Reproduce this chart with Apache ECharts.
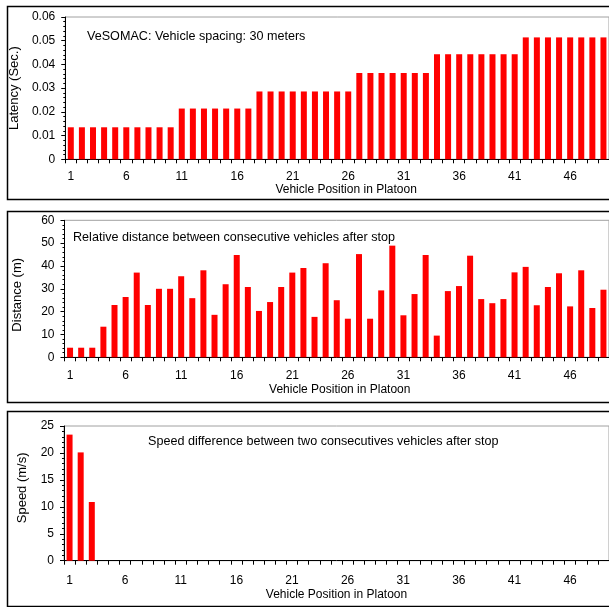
<!DOCTYPE html>
<html><head><meta charset="utf-8">
<script src="https://cdn.jsdelivr.net/npm/echarts@6/dist/echarts.min.js"></script>
<style>html,body{margin:0;padding:0;background:#fff}#c{width:609px;height:607px}</style>
</head><body><div id="c"></div><script>
const categories = ['1','2','3','4','5','6','7','8','9','10','11','12','13','14','15','16','17','18','19','20','21','22','23','24','25','26','27','28','29','30','31','32','33','34','35','36','37','38','39','40','41','42','43','44','45','46','47','48','49'];
const latency = [0.0135,0.0135,0.0135,0.0135,0.0135,0.0135,0.0135,0.0135,0.0135,0.0135,
  0.0214,0.0214,0.0214,0.0214,0.0214,0.0214,0.0214,
  0.0286,0.0286,0.0286,0.0286,0.0286,0.0286,0.0286,0.0286,0.0286,
  0.0364,0.0364,0.0364,0.0364,0.0364,0.0364,0.0364,
  0.0443,0.0443,0.0443,0.0443,0.0443,0.0443,0.0443,0.0443,
  0.0514,0.0514,0.0514,0.0514,0.0514,0.0514,0.0514,0.0514];
const distance = [4.2,4.2,4.2,13.4,22.9,26.4,37.1,22.9,30,30,
  35.5,25.9,38.1,18.6,32,44.8,30.8,20.3,24.2,30.8,
  37.1,39.1,17.7,41.2,25,16.9,45.2,16.9,29.3,48.9,
  18.4,27.7,44.8,9.5,29,31.2,44.5,25.5,23.7,25.5,
  37.2,39.6,22.8,30.8,36.8,22.3,38.1,21.6,29.6];
const speed = [23.4,20.1,10.9,0,0,0,0,0,0,0,
  0,0,0,0,0,0,0,0,0,0,
  0,0,0,0,0,0,0,0,0,0,
  0,0,0,0,0,0,0,0,0,0,
  0,0,0,0,0,0,0,0,0];
const titles = ['VeSOMAC: Vehicle spacing: 30 meters','Relative distance between consecutive vehicles after stop','Speed difference between two consecutives vehicles after stop'];
const yNames = ['Latency (Sec.)','Distance (m)','Speed (m/s)'];
const xName = 'Vehicle Position in Platoon';

const FONT = 'Liberation Sans';
const chart = echarts.init(document.getElementById('c'), null, {renderer:'canvas'});
const GW = 548;
const grids = [
  {left:65, top:17, width:GW, height:142.3},
  {left:64.5, top:220.3, width:GW, height:137},
  {left:64, top:426, width:GW, height:134.7}
].map(g => Object.assign(g, {show:true, borderColor:'#a0a0a0', borderWidth:1, backgroundColor:'transparent', containLabel:false}));

function xAx(gi, margin, gap, pad){
  return {type:'category', gridIndex:gi, data:categories, boundaryGap:true,
    axisLine:{lineStyle:{color:'#000', width:1}},
    axisTick:{show:true, interval:0, length:4, lineStyle:{color:'#000'}},
    axisLabel:{interval:4, margin:margin, color:'#000', fontSize:12, fontFamily:FONT},
    splitLine:{show:false},
    name:xName, nameLocation:'middle', nameGap:gap,
    nameTextStyle:{color:'#000', fontSize:12, fontFamily:FONT, padding:pad}};
}
function yAx(gi, max, interval, name, gap, pad){
  return {type:'value', gridIndex:gi, min:0, max:max, interval:interval,
    axisLine:{show:true, lineStyle:{color:'#000', width:1}},
    axisTick:{show:true, length:4, lineStyle:{color:'#000'}},
    minorTick:{show:true, splitNumber:5, length:2, lineStyle:{color:'#000'}},
    axisLabel:{margin:10, color:'#000', fontSize:12, fontFamily:FONT},
    splitLine:{show:false},
    name:name, nameLocation:'middle', nameGap:gap, nameRotate:90,
    nameTextStyle:{color:'#000', fontSize:13, fontFamily:FONT, padding:pad}};
}

const boxes = [[6,193],[211,191],[411,195]];
const titlePos = [[87,37],[73,238],[148,442]];
const graphic = [];
boxes.forEach(b => graphic.push({type:'rect', shape:{x:7.5, y:b[0]+0.5, width:640, height:b[1]}, style:{fill:'none', stroke:'#000', lineWidth:1.5}, silent:true}));
titles.forEach((t,i) => graphic.push({type:'text', x:titlePos[i][0], y:titlePos[i][1], style:{text:t, fill:'#000', font:'12.6px "'+FONT+'"', verticalAlign:'middle', textVerticalAlign:'middle'}, silent:true}));

const barStyle = {color:'#ff0000', borderWidth:0};
chart.setOption({
  animation:false,
  backgroundColor:'#fff',
  grid:grids,
  xAxis:[xAx(0,11,21,[0,0,0,18]), xAx(1,12,26,[0,0,0,6]), xAx(2,14,28,[0,0,0,0])],
  yAxis:[yAx(0,0.06,0.01,yNames[0],38,[0,0,0,0]), yAx(1,60,10,yNames[1],41,[0,12,0,0]), yAx(2,25,5,yNames[2],35,[0,0,0,11])],
  series:[
    {type:'bar', xAxisIndex:0, yAxisIndex:0, data:latency, barWidth:6, itemStyle:barStyle},
    {type:'bar', xAxisIndex:1, yAxisIndex:1, data:distance, barWidth:6, itemStyle:barStyle},
    {type:'bar', xAxisIndex:2, yAxisIndex:2, data:speed, barWidth:6, itemStyle:barStyle}
  ],
  graphic:graphic
});
</script></body></html>
